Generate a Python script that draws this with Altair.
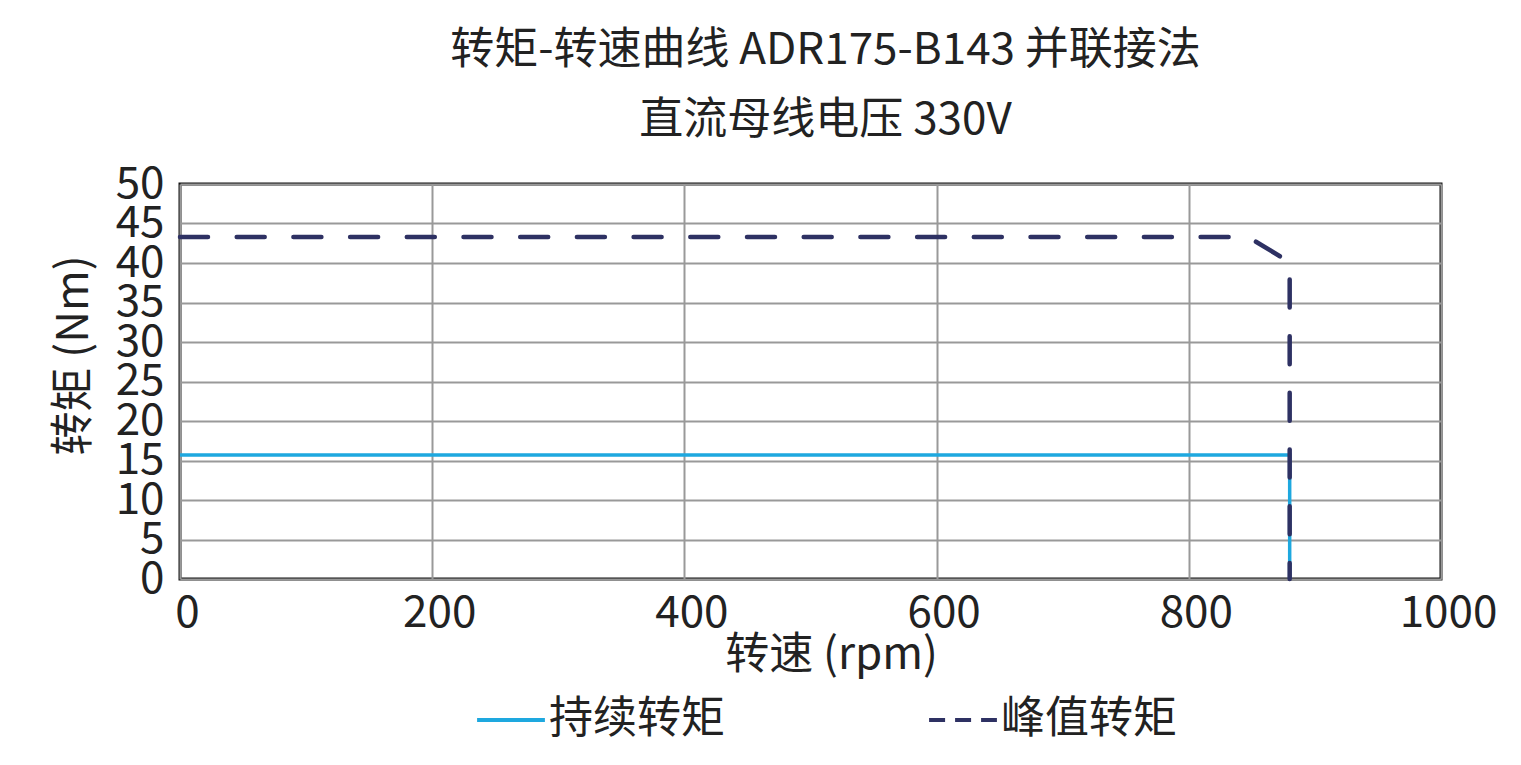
import altair as alt
import pandas as pd

# continuous torque curve
cont_speed = [0, 880, 880]
cont_torque = [15.7, 15.7, 0]
# peak torque curve
peak_speed = [0, 847, 880, 880]
peak_torque = [43.3, 43.3, 40.1, 0]

series_names = ["持续转矩", "峰值转矩"]
series_colors = ["#1ea8df", "#2e3163"]

df_cont = pd.DataFrame({"speed": cont_speed, "torque": cont_torque,
                        "series": series_names[0], "order": range(len(cont_speed))})
df_peak = pd.DataFrame({"speed": peak_speed, "torque": peak_torque,
                        "series": series_names[1], "order": range(len(peak_speed))})
df_key = pd.DataFrame({"speed": [0, 0], "torque": [0, 0], "series": series_names, "order": [0, 0]})

FONT = "Noto Sans CJK SC"
FS = 44

color_scale = alt.Scale(domain=series_names, range=series_colors)
legend_dash_scale = alt.Scale(domain=series_names, range=[[1, 0], [16, 10]])

legend = alt.Legend(
    title=None, orient="none", direction="horizontal",
    legendX=295, legendY=500,
    symbolType="stroke", symbolSize=4600, symbolStrokeWidth=4,
    labelFontSize=FS, labelFont=FONT, labelColor="#222222",
    labelOffset=2, columnPadding=196, labelLimit=400,
)

x = alt.X("speed:Q", scale=alt.Scale(domain=[0, 1000], nice=False),
          axis=alt.Axis(title="转速 (rpm)", values=[0, 200, 400, 600, 800, 1000],
                        format="d", labelFlush=False, labelOverlap=False, labelOffset=7,
                        titleX=651, titleY=76, titleBaseline="middle"))
y = alt.Y("torque:Q", scale=alt.Scale(domain=[0, 50], nice=False),
          axis=alt.Axis(title="转矩 (Nm)", values=list(range(0, 51, 5)),
                        format="d", labelFlush=False, labelOverlap=False,
                        titleX=-106, titleY=171, titleBaseline="middle", titleAlign="center"))

color = alt.Color("series:N", scale=color_scale, legend=legend)

cont = alt.Chart(df_cont).mark_line(strokeWidth=3.5, strokeCap="butt").encode(
    x=x, y=y, order="order:Q", color=color)
peak = alt.Chart(df_peak).mark_line(
    strokeWidth=4.5, strokeCap="round", strokeJoin="round", strokeDash=[28, 28.7]
).encode(x=x, y=y, order="order:Q", color=color)
key = alt.Chart(df_key).mark_line(strokeWidth=4, strokeCap="butt").encode(
    x=x, y=y, order="order:Q", color=color,
    strokeDash=alt.StrokeDash("series:N", scale=legend_dash_scale, legend=legend))

chart = alt.layer(cont, peak, key).properties(
    width=1261, height=395,
    autosize=alt.AutoSizeParams(type="none"),
    padding={"left": 172, "top": 176, "right": 72, "bottom": 170},
    title=alt.TitleParams(
        text=["转矩-转速曲线 ADR175-B143 并联接法", "直流母线电压 330V"],
        font=FONT, fontSize=FS, fontWeight="normal", color="#222222",
        lineHeight=70, anchor="middle", dx=15, offset=19,
    ),
).configure_view(
    stroke="#111111", strokeWidth=3,
).configure_axis(
    labelFont=FONT, labelFontSize=FS, labelColor="#222222",
    titleFont=FONT, titleFontSize=FS, titleFontWeight="normal", titleColor="#222222",
    grid=True, gridColor="#999999", gridWidth=2,
    domain=False, ticks=False,
).configure_axisY(
    labelPadding=16,
).configure_axisX(
    labelPadding=12,
)

chart.save("out.html", embed_options={"renderer": "svg", "actions": False})
